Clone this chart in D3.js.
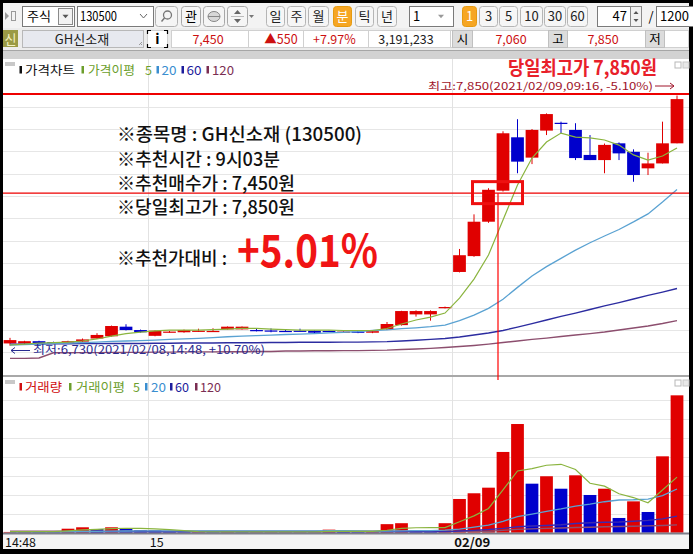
<!DOCTYPE html>
<html><head><meta charset="utf-8">
<script src="https://cdn.jsdelivr.net/npm/d3@7/dist/d3.min.js"></script>
<style>
html,body{margin:0;padding:0;background:#000;overflow:hidden}
svg{display:block}
text{font-family:"Noto Sans CJK KR","Noto Sans",sans-serif}
</style></head><body>
<svg id="chart" width="693" height="554"></svg>
<script>
// ---------------- DATA ----------------
const categories = [
 "02/08 14:48","02/08 14:49","02/08 14:50","02/08 14:52","02/08 14:53","02/08 14:54","02/08 14:55","02/08 14:56","02/08 14:57","02/08 14:59",
 "02/08 15:00","02/08 15:01","02/08 15:02","02/08 15:03","02/08 15:04","02/08 15:05","02/08 15:06","02/08 15:07","02/08 15:08","02/08 15:09",
 "02/08 15:10","02/08 15:11","02/08 15:12","02/08 15:13","02/08 15:14","02/08 15:15","02/08 15:16","02/08 15:17","02/08 15:18","02/08 15:19",
 "02/08 15:30","02/09 09:01","02/09 09:02","02/09 09:03","02/09 09:04","02/09 09:05","02/09 09:06","02/09 09:07","02/09 09:08","02/09 09:09",
 "02/09 09:10","02/09 09:11","02/09 09:12","02/09 09:13","02/09 09:14","02/09 09:15","02/09 09:16"];
const opens  = [6740,6740,6750,6746,6742,6748,6762,6772,6815,6800, 6774,6790,6790,6795,6795,6803,6803,6800,6798,6796, 6797,6797,6796,6790,6793,6788,6803,6822,6870,6870, 6898,7060,7131,7285,7424,7663,7572,7693,7728,7696, 7584,7561,7636,7598,7524,7546,7636];
const highs  = [6765,6752,6752,6748,6752,6762,6786,6820,6826,6802, 6798,6796,6802,6806,6808,6816,6816,6806,6807,6800, 6806,6798,6797,6795,6800,6796,6836,6886,6888,6888, 6905,7163,7318,7435,7690,7744,7700,7770,7733,7726, 7673,7635,7640,7609,7594,7733,7850];
const lows   = [6730,6738,6738,6742,6740,6746,6760,6770,6798,6788, 6772,6788,6788,6792,6792,6802,6802,6794,6790,6793, 6795,6786,6793,6788,6786,6786,6800,6820,6860,6842, 6897,7058,7128,7280,7420,7502,7543,7673,7681,7561, 7561,7502,7561,7464,7494,7546,7636];
const closes = [6755,6750,6740,6745,6750,6758,6778,6818,6800,6790, 6797,6793,6800,6797,6796,6815,6815,6798,6797,6795, 6796,6788,6795,6793,6792,6795,6827,6885,6885,6885, 6903,7135,7285,7428,7681,7554,7696,7767,7724,7570, 7561,7629,7591,7494,7546,7636,7834];
const priceMa5   = [6733,6737,6742,6744,6746,6751,6760,6773,6784,6791, 6796,6800,6800,6800,6802,6804,6807,6807,6804,6802, 6800,6800,6800,6798,6798,6798,6807,6827,6845,6858, 6876,6943,7028,7136,7293,7449,7570,7642,7682,7664, 7660,7651,7628,7584,7561,7579,7615];
const priceMa20  = [6733,6735,6737,6740,6742,6744,6746,6749,6751,6753, 6755,6758,6760,6763,6766,6770,6773,6775,6777,6780, 6782,6784,6787,6790,6793,6798,6801,6806,6810,6815, 6822,6842,6867,6897,6938,6991,7042,7084,7121,7158, 7191,7221,7250,7284,7320,7373,7429];
const priceMa60  = [6737,6737,6737,6738,6738,6739,6739,6740,6740,6740, 6741,6741,6742,6742,6742,6743,6743,6743,6744,6744, 6745,6745,6745,6746,6746,6747,6748,6751,6754,6758, 6762,6769,6778,6787,6798,6813,6829,6845,6861,6876, 6892,6908,6923,6939,6955,6970,6986];
const priceMa120 = [6673,6673,6675,6698,6698,6699,6699,6700,6700,6700, 6701,6701,6702,6702,6702,6703,6703,6704,6704,6706, 6706,6707,6707,6708,6708,6709,6710,6713,6715,6718, 6722,6726,6731,6737,6744,6751,6758,6764,6771,6778, 6784,6791,6800,6809,6818,6829,6842];
// volume in thousand shares
const volumes = [0.8,0.8,0.6,0.5,4.2,5.7,3.9,5.7,3.9,2.8, 2.5,0.8,0.6,0.6,0.5,0.6,0.5,0.5,0.5,0.5, 0.5,0.5,3.2,0.8,0.6,0.6,9,10,2.2,2, 10,35.5,41.5,47.4,85,114.4,51.6,59.4,46.3,60.4, 39.7,46.3,15.5,33,21.8,80.4,144.6];
const volMa5   = [1.2,1.2,1.2,1.2,2,3,3.5,4.3,4.7,4.6, 4,3.2,2.2,1.2,0.8,0.8,0.8,0.8,0.8,0.8, 0.8,0.8,1.3,1.3,1.3,1.3,2.6,4.6,5.2,5.3, 5.3,11.6,17.7,25.5,45,65,67.5,71,72,66.5, 52,49,41,37,31.5,45,58.5];
const volMa20  = [1,1,1,1,1.2,1.4,1.5,1.7,1.8,1.9, 2,2,2,2,2,2,2,2,2,2, 2,2,2.1,2.1,2,1.6,1.8,2,2.1,2.2, 2.7,3.7,5.8,8,12,17,19.6,22.5,25,28, 30,32.6,34.4,34.7,35.4,39,46];
const volMa60  = [1,1,1,1,1,1,1,1,1,1, 1,1,1,1,1,1,1,1,1,1, 1,1,1,1,1,1,1,1,1,1, 1,1.8,2.5,3.3,4.5,6.3,7,7.6,8.3,9.7, 10.5,11,11.3,12,13,14.5,17.5];
const volMa120 = [1.5,1.5,1.5,1.5,1.5,1.5,1.5,1.5,1.5,1.5, 1.5,1.5,1.5,1.5,1.5,1.5,1.5,1.5,1.5,1.5, 1.5,1.5,1.5,1.5,1.5,1.5,1.5,1.5,1.5,1.5, 1.5,1.5,1.5,1.5,2.5,3.5,4,4.5,5,5.5, 5.8,6.2,6.5,6.8,7.2,7.6,8.2];
const tickCats   = ["02/08 14:48","02/08 15:00","02/09 09:01"];
const tickLabels = ["14:48","15","02/09"];
const noteLines = ["※종목명 : GH신소재 (130500)","※추천시간 : 9시03분","※추천매수가 : 7,450원","※당일최고가 : 7,850원","※추천가대비 :"];
const noteBig = "+5.01%";
const recCat = "02/09 09:03";
const markLevel = 7413;

// ---------------- SETUP ----------------
const svg = d3.select("#chart");
const W=693,H=554;
function rect(x,y,w,h,fill,stroke,rx){const r=svg.append("rect").attr("x",x).attr("y",y).attr("width",w).attr("height",h).attr("fill",fill||"none");if(stroke)r.attr("stroke",stroke).attr("stroke-width",1);if(rx)r.attr("rx",rx);return r;}
function text(x,y,s,o={}){const t=svg.append("text").attr("x",x).attr("y",y).text(s).attr("font-size",o.size||12).attr("fill",o.fill||"#000");if(o.anchor)t.attr("text-anchor",o.anchor);if(o.weight)t.attr("font-weight",o.weight);if(o.len)t.attr("textLength",o.len).attr("lengthAdjust","spacingAndGlyphs");return t;}
function tri(cx,cy,s,down,fill){const h=s*0.6;const p=down?`M${cx-s/2},${cy-h/2}L${cx+s/2},${cy-h/2}L${cx},${cy+h/2}Z`:`M${cx-s/2},${cy+h/2}L${cx+s/2},${cy+h/2}L${cx},${cy-h/2}Z`;svg.append("path").attr("d",p).attr("fill",fill||"#555");}

rect(0,0,W,H,"#000");

// ---------------- TOOLBAR ROW 1 ----------------
rect(3,3,686,25,"#f3f3f3");
svg.append("path").attr("d","M5,12L9,16L5,20Z").attr("fill","#9a9a9a");
rect(11.5,11.5,4,9,"none","#9a9a9a");
rect(22.5,6.5,52,20,"#fff","#7a7a7a");
text(27,21,"주식",{size:13});
rect(58.5,8.5,14,16,"#f2f2f2","#8a8a8a"); tri(65.5,16.5,6,true,"#555");
rect(77.5,6.5,76,20,"#fff","#7a7a7a");
text(80,21,"130500",{size:13,len:37});
svg.append("path").attr("d","M140,14L143.5,18L147,14").attr("fill","none").attr("stroke","#666");
rect(155.5,6.5,22,20,"#f5f5f5","#b0b0b0",3);
svg.append("circle").attr("cx",167.5).attr("cy",15).attr("r",4).attr("fill","none").attr("stroke","#777").attr("stroke-width",1.3);
svg.append("line").attr("x1",164.5).attr("y1",18).attr("x2",161.5).attr("y2",21.5).attr("stroke","#777").attr("stroke-width",1.5);
rect(181.5,6.5,19,20,"#f5f5f5","#a8a8a8",3); text(191,21,"관",{size:13,anchor:"middle"});
rect(203.5,6.5,21,20,"#f5f5f5","#a8a8a8",3);
svg.append("ellipse").attr("cx",214).attr("cy",16.5).attr("rx",6).attr("ry",5).attr("fill","#d8d8d8").attr("stroke","#888");
svg.append("line").attr("x1",208).attr("y1",16.5).attr("x2",220).attr("y2",16.5).attr("stroke","#888");
rect(227.5,6.5,20,20,"#f5f5f5","#a8a8a8",3); tri(237.5,12,7,false,"#666"); tri(237.5,21,7,true,"#666");
svg.append("line").attr("x1",231).attr("y1",16.5).attr("x2",244).attr("y2",16.5).attr("stroke","#bbb");
tri(251.5,16.5,5,true,"#777");
[["일",266,18],["주",287,18],["월",308,20],["분",333,18,1],["틱",355,18],["년",377,19]].forEach(b=>{
  rect(b[1]+.5,6.5,b[2],20,b[3]?"#f6a623":"#f6f6f6",b[3]?"#e59a10":"#b5b5b5",3);
  text(b[1]+b[2]/2+0.5,21,b[0],{size:13,anchor:"middle",fill:b[3]?"#fff":"#222"});
});
rect(409.5,6.5,44,20,"#fff","#7a7a7a"); text(413,21,"1",{size:13}); tri(441,16.5,6,true,"#999");
[["1",462,14,1],["3",479,18],["5",499,18],["10",520,22],["30",544,21],["60",567,20]].forEach(b=>{
  rect(b[1]+.5,6.5,b[2],20,b[3]?"#f6a623":"#f6f6f6",b[3]?"#e59a10":"#b5b5b5",3);
  text(b[1]+b[2]/2+0.5,21,b[0],{size:13,anchor:"middle",fill:b[3]?"#fff":"#222"});
});
rect(597.5,6.5,33,20,"#fff","#7a7a7a"); text(627,21,"47",{size:13,anchor:"end"});
rect(630.5,6.5,11,20,"#f2f2f2","#8a8a8a"); tri(636,12.5,5,false,"#555"); tri(636,20.5,5,true,"#555");
text(651,21,"/",{size:13,anchor:"middle"});
rect(656.5,6.5,40,20,"#fff","#7a7a7a"); text(660,21,"1200",{size:13});

// ---------------- TOOLBAR ROW 2 ----------------
rect(3,28,686,22,"#ececec");
rect(3,30,15,17,"#9a9a45"); text(10.5,44,"신",{size:13,anchor:"middle",fill:"#f4f2c0"});
rect(22.5,30.5,121,17,"#e7e9ef","#b8b8b8"); text(82,44,"GH신소재",{size:13,anchor:"middle",fill:"#222"});
svg.append("path").attr("d","M139,45L142,42M141,45L142,44").attr("stroke","#999");
rect(147.5,30.5,20,17,"#fff","#d0d0d0"); text(157.5,44,"i",{size:14,anchor:"middle",weight:"bold"});
svg.append("path").attr("d","M147.5,34V30.5H151M164,30.5H167.5V34M147.5,44V47.5H151M164,47.5H167.5V44").attr("fill","none").attr("stroke","#000").attr("stroke-width",1.2);
rect(171.5,30.5,517,17,"#fff","#d0d0d0");
[248,303,368,450].forEach(v=>svg.append("line").attr("x1",v+.5).attr("x2",v+.5).attr("y1",31).attr("y2",47).attr("stroke","#d0d0d0"));
text(208,44,"7,450",{size:12.5,anchor:"middle",fill:"#cc1010"});
text(281,44,"▲550",{size:12.5,anchor:"middle",fill:"#cc1010"});
text(313,44,"+7.97%",{size:12.5,fill:"#cc1010"});
text(406,44,"3,191,233",{size:12.5,anchor:"middle",fill:"#222"});
rect(452.5,30.5,20,17,"#dcdcdc","#c0c0c0"); text(462.5,44,"시",{size:12.5,anchor:"middle"});
text(511,44,"7,060",{size:12.5,anchor:"middle",fill:"#cc1010"});
rect(548.5,30.5,19,17,"#dcdcdc","#c0c0c0"); text(558,44,"고",{size:12.5,anchor:"middle"});
text(603,44,"7,850",{size:12.5,anchor:"middle",fill:"#cc1010"});
rect(645.5,30.5,19,17,"#dcdcdc","#c0c0c0"); text(655,44,"저",{size:12.5,anchor:"middle"});
rect(3,50,686,9,"#d2d2d2");
svg.append("line").attr("x1",3).attr("x2",689).attr("y1",50.5).attr("y2",50.5).attr("stroke","#a6a6a6");

// ---------------- SCALES ----------------
const x = d3.scaleBand().domain(categories).range([2.75,684.25]).paddingInner(0.12).paddingOuter(0.06);
const bw = x.bandwidth();
const cx = c => x(c)+bw/2;
const edge = c => x(c)-x.step()*0.06;
const yP = d3.scaleLinear().domain([6600,7950]).range([374.7,73.2]);
const yV = d3.scaleLinear().domain([0,160]).range([532.7,380.7]);
const UP="#e00000", DOWN="#0000cc";

// ---------------- PRICE PANEL ----------------
rect(3,59,686,317,"#fff");
const defs = svg.append("defs");
defs.append("clipPath").attr("id","cp").append("rect").attr("x",3).attr("y",59).attr("width",686).attr("height",317);
defs.append("clipPath").attr("id","cv").append("rect").attr("x",3).attr("y",377).attr("width",686).attr("height",156);
const gp = svg.append("g").attr("clip-path","url(#cp)");
yP.ticks(14).filter(t=>t>=6700&&t<=7800).forEach(t=>{
  gp.append("line").attr("x1",3).attr("x2",689).attr("y1",Math.round(yP(t))+.5).attr("y2",Math.round(yP(t))+.5).attr("stroke","#e6e6e6");
});
tickCats.slice(1).forEach(c=>{
  gp.append("line").attr("x1",Math.round(edge(c))+.5).attr("x2",Math.round(edge(c))+.5).attr("y1",59).attr("y2",376).attr("stroke","#e2e2e2");
});
// candles
categories.forEach((c,i)=>{
  const up = closes[i]>=opens[i], col = up?UP:DOWN;
  gp.append("line").attr("x1",cx(c)).attr("x2",cx(c)).attr("y1",yP(highs[i])).attr("y2",yP(lows[i])).attr("stroke",col).attr("stroke-width",1);
  const yt = yP(Math.max(opens[i],closes[i])), yb = yP(Math.min(opens[i],closes[i]));
  gp.append("rect").attr("x",x(c)).attr("y",yt).attr("width",bw).attr("height",Math.max(1.2,yb-yt)).attr("fill",col);
});
const lineP = arr => d3.line().x((d,i)=>cx(categories[i])).y(d=>yP(d))(arr);
[[priceMa120,"#8c4e6e",1.4],[priceMa60,"#2c2ca0",1.4],[priceMa20,"#5aa2d2",1.3],[priceMa5,"#8ab43e",1.2]].forEach(s=>{
  gp.append("path").attr("d",lineP(s[0])).attr("fill","none").attr("stroke",s[1]).attr("stroke-width",s[2]);
});
// legend
rect(5,62,10,4,"#c8c8c8");
function legend(items,yb){
  items.forEach(it=>{
    if(it.m!==undefined) rect(it.m,yb-9,2.5,7.5,it.c);
    text(it.x,yb,it.t,{size:12.5,fill:it.c,len:it.w});
  });
}
legend([{m:19.5,x:25,t:"가격차트",c:"#111",w:50},{m:81.5,x:88,t:"가격이평",c:"#6c9e2c",w:47},{x:145,t:"5",c:"#6c9e2c"},
        {m:156.5,x:161.5,t:"20",c:"#3a8ed0",w:15},{m:181.5,x:186.5,t:"60",c:"#1c1c9c",w:15},{m:206.5,x:212,t:"120",c:"#7b2d52",w:22}],75);
rect(675,62,6,6,"#fff","#b8b8b8"); rect(683,62,6,6,"#e8e8e8","#c8c8c8");
// high line + labels
svg.append("line").attr("x1",3).attr("x2",689).attr("y1",yP(7850)-1.5).attr("y2",yP(7850)-1.5).attr("stroke","#ee0000").attr("stroke-width",2);
text(508,75,"당일최고가 7,850원",{size:19.5,weight:"bold",fill:"#e8202a",len:149});
text(428,90,"최고:7,850(2021/02/09,09:16, -5.10%)",{size:10.5,fill:"#a0142a",len:225});
svg.append("path").attr("d","M655,86H674M670,83L674,86L670,89").attr("fill","none").attr("stroke","#a0142a").attr("stroke-width",1);
svg.append("path").attr("d","M30,350.5H11M15,347.5L11,350.5L15,353.5").attr("fill","none").attr("stroke","#2a2a90").attr("stroke-width",1);
text(33,354,"최저:6,730(2021/02/08,14:48, +10.70%)",{size:11.5,fill:"#2a2a90",len:232});
svg.append("line").attr("x1",3).attr("x2",689).attr("y1",376).attr("y2",376).attr("stroke","#a8a8a8").attr("stroke-width",2);

// ---------------- VOLUME PANEL ----------------
rect(3,377,686,156,"#fff");
const gv = svg.append("g").attr("clip-path","url(#cv)");
yV.ticks(8).filter(t=>t>0&&t<160).forEach(t=>{
  gv.append("line").attr("x1",3).attr("x2",689).attr("y1",Math.round(yV(t))+.5).attr("y2",Math.round(yV(t))+.5).attr("stroke","#e6e6e6");
});
tickCats.slice(1).forEach(c=>{
  gv.append("line").attr("x1",Math.round(edge(c))+.5).attr("x2",Math.round(edge(c))+.5).attr("y1",377).attr("y2",533).attr("stroke","#e2e2e2");
});
categories.forEach((c,i)=>{
  const col = (i===0||volumes[i]>=volumes[i-1])?UP:DOWN;
  gv.append("rect").attr("x",x(c)).attr("y",yV(volumes[i])).attr("width",bw).attr("height",yV(0)-yV(volumes[i])).attr("fill",col);
});
const lineV = arr => d3.line().x((d,i)=>cx(categories[i])).y(d=>yV(d))(arr);
[[volMa120,"#8c4e6e",1.4],[volMa60,"#3a2ab0",1.4],[volMa20,"#5aa2d2",1.3],[volMa5,"#8ab43e",1.2]].forEach(s=>{
  gv.append("path").attr("d",lineV(s[0])).attr("fill","none").attr("stroke",s[1]).attr("stroke-width",s[2]);
});
rect(5,380,10,4,"#c8c8c8");
legend([{m:19.5,x:25,t:"거래량",c:"#d01010",w:37},{m:69,x:76,t:"거래이평",c:"#6c9e2c",w:49},{x:133,t:"5",c:"#6c9e2c"},
        {m:145,x:151,t:"20",c:"#3a8ed0",w:15},{m:170,x:175,t:"60",c:"#1c1c9c",w:14},{m:195,x:200,t:"120",c:"#7b2d52",w:21}],392);
rect(675,380,6,6,"#fff","#b8b8b8"); rect(683,380,6,6,"#e8e8e8","#c8c8c8");

// ---------------- X AXIS ----------------
rect(3,534,686,15,"#f4f4f4");
svg.append("line").attr("x1",3).attr("x2",689).attr("y1",533.5).attr("y2",533.5).attr("stroke","#7c7c88").attr("stroke-width",2);
tickCats.forEach((c,i)=>{
  const xx = i===0?5:edge(c)+2;
  text(xx,547,tickLabels[i],{size:12.5,fill:"#111",weight:i===2?"bold":null,len:i===0?31:(i===2?36:null)});
});

// ---------------- ANNOTATION OVERLAY ----------------
const rc = cx(recCat);
svg.append("line").attr("x1",3).attr("x2",689).attr("y1",yP(markLevel)).attr("y2",yP(markLevel)).attr("stroke","#ee0000").attr("stroke-width",1.2);
svg.append("line").attr("x1",rc+9.5).attr("x2",rc+9.5).attr("y1",yP(markLevel)).attr("y2",380).attr("stroke","#ff0000").attr("stroke-width",1.2);
svg.append("rect").attr("x",rc-16).attr("y",yP(markLevel)-11.5).attr("width",50).attr("height",22).attr("fill","none").attr("stroke","#ee1010").attr("stroke-width",3);
const noteY=[141,165.5,189.5,213.5,264.5], noteW=[245,163,178,178,110];
noteLines.forEach((s,i)=>text(117,noteY[i],s,{size:18.5,fill:"#111",weight:"500",len:noteW[i]}));
text(237,266.5,noteBig,{size:45,weight:"bold",fill:"#f01414",len:141});
</script>
</body></html>
